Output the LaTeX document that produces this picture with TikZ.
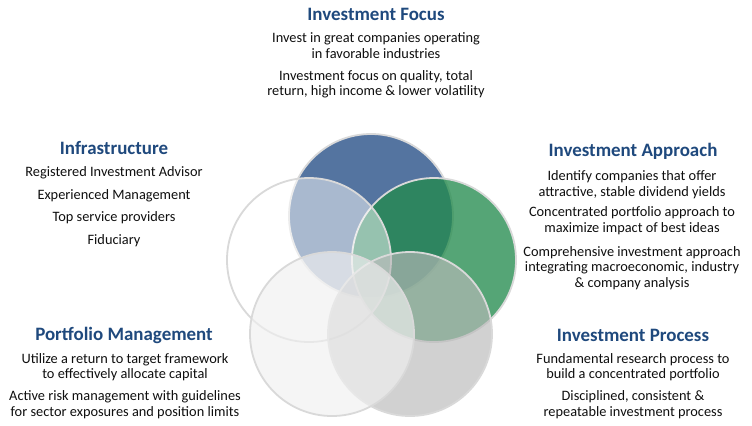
\documentclass[tikz,border=0pt]{standalone}
\usepackage{fontspec}
\setmainfont{Carlito}
\definecolor{headblue}{RGB}{31,73,125}
\definecolor{bodytxt}{RGB}{15,15,15}
\definecolor{cblue}{RGB}{84,116,160}
\definecolor{cgreen}{RGB}{35,139,77}
\definecolor{cgray}{RGB}{185,185,185}
\definecolor{clight}{RGB}{240,240,240}
\definecolor{cstroke}{RGB}{217,217,217}
\tikzset{
  head/.style={text=headblue, font=\fontsize{19}{21}\selectfont\bfseries, align=center, inner sep=0pt},
  body/.style={text=bodytxt, font=\fontsize{14.4}{15.5}\selectfont, align=center, inner sep=0pt},
  ring/.style={circle, minimum size=164bp, inner sep=0pt, draw=cstroke, line width=1.8bp, draw opacity=1},
}
\begin{document}
\begin{tikzpicture}[x=1bp, y=-1bp]
\useasboundingbox (0,0) rectangle (752,425);
\fill[white] (0,0) rectangle (752,425);
% circles
\node[ring, fill=cblue] (cfocus) at (371,216) {};
\node[ring, fill=cgreen, fill opacity=0.77] (capproach) at (434,260) {};
\node[ring, fill=white, fill opacity=0.5] (cinfra) at (309,260) {};
\node[ring, fill=cgray, fill opacity=0.65] (cprocess) at (410,334) {};
\node[ring, fill=clight, fill opacity=0.65] (cportfolio) at (332,334) {};
% Investment Focus
\node[head] (hfocus) at (376,14) {Investment Focus};
\node[body] (f1) at (376,45.5) {Invest in great companies operating\\in favorable industries};
\node[body] (f2) at (376,84.5) {Investment focus on quality, total\\return, high income \& lower volatility};
% Infrastructure
\node[head] (hinfra) at (114,148) {Infrastructure};
\node[body] (i1) at (114,173) {Registered Investment Advisor};
\node[body] (i2) at (114,195.5) {Experienced Management};
\node[body] (i3) at (114,218) {Top service providers};
\node[body] (i4) at (114,241) {Fiduciary};
% Investment Approach
\node[head] (happroach) at (633,151) {Investment Approach};
\node[body] (a1) at (632,184.5) {Identify companies that offer\\attractive, stable dividend yields};
\node[body] (a2) at (632,220.5) {Concentrated portfolio approach to\\maximize impact of best ideas};
\node[body] (a3) at (632,268) {Comprehensive investment approach\\integrating macroeconomic, industry\\\& company analysis};
% Portfolio Management
\node[head] (hport) at (124,335) {Portfolio Management};
\node[body] (p1) at (125,367) {Utilize a return to target framework\\to effectively allocate capital};
\node[body] (p2) at (125,404.5) {Active risk management with guidelines\\for sector exposures and position limits};
% Investment Process
\node[head] (hproc) at (633,335) {Investment Process};
\node[body] (r1) at (633,367) {Fundamental research process to\\build a concentrated portfolio};
\node[body] (r2) at (633,404.5) {Disciplined, consistent \&\\repeatable investment process};
\end{tikzpicture}
\end{document}
